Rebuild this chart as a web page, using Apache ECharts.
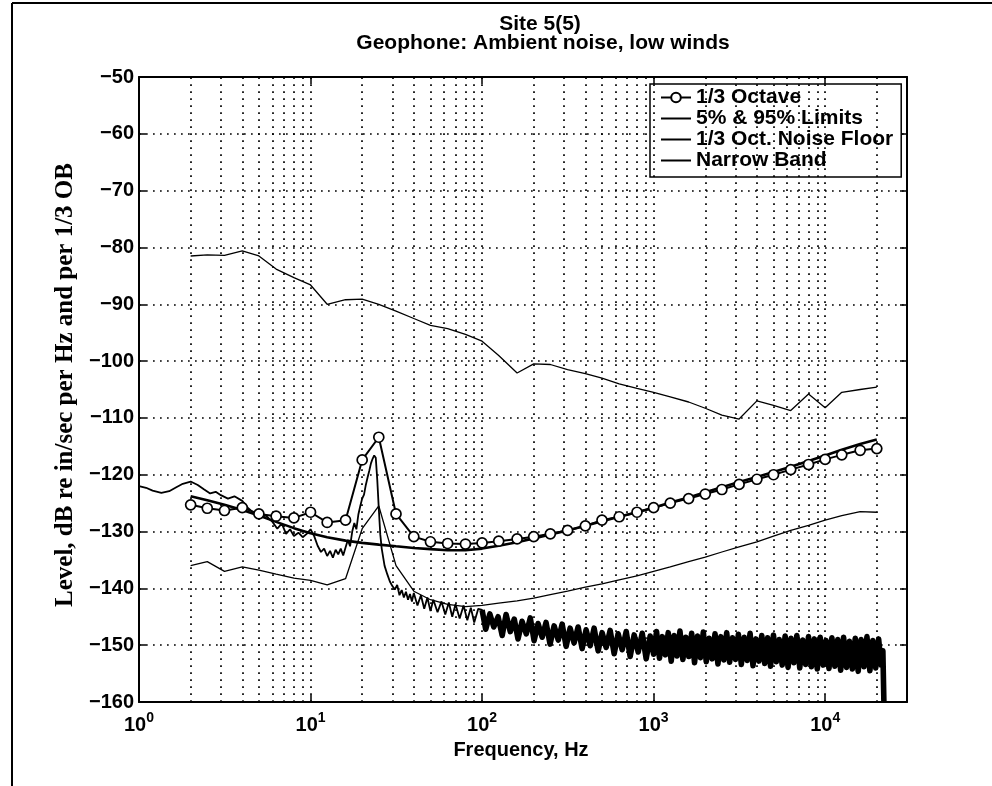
<!DOCTYPE html>
<html>
<head>
<meta charset="utf-8">
<title>Site 5(5)</title>
<script src="https://cdn.jsdelivr.net/npm/echarts@6/dist/echarts.min.js"></script>
<style>
html,body{margin:0;padding:0;background:#fff;}
#chart{width:992px;height:786px;}
</style>
</head>
<body>
<div id="chart"></div>
<script>
/* 1/3 octave band centre frequencies, Hz */
var bandFreq = [2, 2.5, 3.15, 4, 5, 6.3, 8, 10, 12.5, 16, 20, 25, 31.5, 40, 50, 63, 80, 100, 125, 160,
	200, 250, 315, 400, 500, 630, 800, 1000, 1250, 1600, 2000, 2500, 3150, 4000, 5000, 6300, 8000,
	10000, 12500, 16000, 20000];
/* 1/3 octave levels */
var octaveLevel = [-125.3, -125.9, -126.3, -125.8, -126.9, -127.3, -127.6, -126.6, -128.4, -128.0, -117.4,
	-113.4, -126.9, -130.9, -131.8, -132.1, -132.2, -132.0, -131.7, -131.3, -130.9, -130.4, -129.8, -129.0,
	-128.0, -127.4, -126.6, -125.8, -125.0, -124.2, -123.4, -122.6, -121.7, -120.8, -120.0, -119.1, -118.2,
	-117.3, -116.5, -115.7, -115.4];
/* 95% limit */
var limit95 = [-81.5, -81.3, -81.4, -80.6, -81.5, -83.8, -85.3, -86.6, -90.0, -89.2, -89.1, -90.0, -91.2,
	-92.5, -93.7, -94.3, -95.3, -96.5, -99.0, -102.1, -100.5, -100.6, -101.5, -102.2, -103.0, -104.0, -104.8,
	-105.5, -106.3, -107.2, -108.3, -109.5, -110.2, -107.0, -107.8, -108.7, -105.8, -108.2, -105.5, -105.0,
	-104.6];
/* 5% limit */
var limit5 = [-136.0, -135.3, -137.0, -136.2, -136.8, -137.5, -138.2, -138.6, -139.4, -138.3, -129.5, -125.5,
	-136.0, -140.5, -142.0, -142.8, -143.2, -143.0, -142.6, -142.2, -141.7, -141.1, -140.5, -139.8, -139.2,
	-138.5, -137.8, -137.0, -136.2, -135.3, -134.5, -133.6, -132.7, -131.8, -130.8, -129.8, -128.9, -128.0,
	-127.2, -126.5, -126.6];
/* 1/3 oct. noise floor */
var noiseFloor = [-123.8, -124.5, -125.3, -126.2, -127.2, -128.3, -129.4, -130.3, -131.0, -131.6, -132.0,
	-132.3, -132.6, -132.9, -133.1, -133.3, -133.3, -133.0, -132.5, -131.9, -131.2, -130.5, -129.8, -129.0,
	-128.2, -127.4, -126.6, -125.8, -124.9, -124.0, -123.1, -122.2, -121.3, -120.4, -119.5, -118.6, -117.6,
	-116.6, -115.6, -114.6, -113.8];
/* narrow band spectrum [Hz, dB], 1 - 100 Hz */
var narrowBandLow = [
	[1.0,-122.0],[1.1,-122.3],[1.2,-122.8],[1.35,-123.2],[1.5,-122.9],[1.65,-122.2],[1.8,-121.6],[2.0,-121.2],
	[2.2,-121.8],[2.4,-122.6],[2.6,-123.3],[2.8,-123.0],[3.0,-123.6],[3.3,-124.2],[3.6,-123.8],[4.0,-124.6],
	[4.3,-125.8],[4.7,-126.8],[5.1,-127.4],[5.5,-127.2],[6.0,-128.3],[6.4,-129.5],[6.8,-128.6],[7.2,-130.4],
	[7.6,-129.6],[8.0,-130.8],[8.5,-130.2],[9.0,-131.0],[9.5,-130.4],[10.0,-129.6],[10.5,-130.8],[11.0,-132.5],
	[11.5,-133.6],[12.0,-133.0],[12.5,-134.3],[13.0,-133.4],[13.5,-134.6],[14.0,-133.2],[14.5,-134.0],[15.0,-133.0],
	[15.5,-134.2],[16.0,-132.8],[16.5,-131.5],[17.0,-132.6],[17.5,-130.0],[18.0,-128.5],[18.5,-129.6],[19.0,-127.0],
	[19.5,-125.5],[20.0,-124.2],[20.5,-123.5],[21.0,-121.8],[21.5,-120.5],[22.0,-119.3],[22.5,-118.0],[23.0,-117.2],
	[23.5,-116.6],[24.0,-117.0],[24.5,-121.0],[25.0,-126.0],[25.5,-130.5],[26.0,-133.0],[27.0,-136.0],[28.0,-137.5],
	[29.0,-138.8],[30.0,-139.6],[31.0,-140.2],[32.0,-139.4],[33.0,-141.2],[34.0,-140.3],[35.0,-141.6],[36.0,-140.6],
	[37.0,-142.0],[38.0,-141.0],[39.0,-142.3],[40.0,-140.8],[42,-143.0],[44,-141.2],[46,-143.6],[48,-141.6],
	[50,-144.0],[52,-142.0],[55,-144.2],[58,-142.3],[61,-144.6],[64,-142.5],[67,-145.0],[70,-142.8],[74,-145.3],
	[78,-143.0],[82,-145.6],[86,-143.4],[90,-146.0],[95,-143.6],[100,-143.8]
];
/* narrow band spectrum [Hz, dB], 100 Hz - 22 kHz (dense noise band) */
var narrowBandHigh = [
	[100,-143.8],[105,-147.2],[111,-144.5],[117,-146.8],[124,-145.0],[131,-148.3],[138,-144.6],[146,-147.6],
	[154,-145.4],[162,-148.9],[171,-145.8],[181,-148.0],[191,-145.2],[201,-149.2],[212,-146.2],[224,-148.6],
	[236,-146.0],[249,-149.8],[263,-146.6],[278,-149.1],[293,-146.3],[309,-150.2],[326,-147.0],[344,-149.6],
	[363,-146.8],[383,-150.6],[404,-147.3],[427,-150.1],[450,-147.0],[475,-151.0],[501,-147.8],[529,-150.4],
	[558,-147.4],[589,-151.5],[621,-148.0],[656,-150.8],[692,-147.6],[730,-152.0],[770,-148.2],[813,-151.2],
	[858,-147.9],[905,-152.4],[955,-148.4],[1000,-151.6],
	[1040,-147.6],[1082,-152.3],[1125,-148.5],[1170,-151.7],[1217,-147.8],[1266,-152.8],[1316,-148.3],[1369,-151.9],
	[1424,-147.5],[1481,-152.5],[1540,-148.6],[1602,-152.0],[1666,-147.9],[1732,-153.1],[1802,-148.4],[1874,-152.2],
	[1949,-147.7],[2027,-152.9],[2108,-148.8],[2192,-152.4],[2280,-148.0],[2371,-153.3],[2466,-148.5],[2565,-152.6],
	[2667,-147.8],[2774,-153.0],[2885,-148.7],[3000,-152.5],[3120,-148.1],[3245,-153.4],[3375,-148.6],[3510,-152.7],
	[3650,-147.9],[3796,-153.6],[3948,-148.9],[4106,-152.8],[4270,-148.3],[4441,-153.2],[4619,-148.7],[4803,-153.7],
	[4996,-148.2],[5195,-152.9],[5403,-149.0],[5619,-153.5],[5844,-148.4],[6078,-153.9],[6321,-148.8],[6574,-153.1],
	[6837,-148.3],[7110,-154.0],[7395,-149.1],[7690,-153.4],[7998,-148.5],[8318,-153.8],[8651,-148.9],[8997,-154.2],
	[9357,-148.6],[9731,-153.5],[10120,-149.2],[10525,-154.1],[10946,-148.7],[11384,-153.7],[11839,-149.0],[12313,-154.4],
	[12805,-148.6],[13317,-153.9],[13850,-149.3],[14404,-154.2],[14980,-148.8],[15579,-154.6],[16202,-149.0],[16850,-153.8],
	[17524,-148.5],[18225,-154.5],[18954,-149.2],[19713,-154.0],[20500,-148.9],[21200,-153.5],[21700,-151.0],[22000,-160.0]
];
/* axis */
var xMin = 1, xMax = 30000;
var yMin = -160, yMax = -50, yStep = 10;
var gridDecades = [1, 10, 100, 1000, 10000];
var gridSteps = [1, 2, 3, 4, 5, 6, 7, 8, 9];

var fontSans = '"Liberation Sans", Arial, Helvetica, sans-serif';
var fontSerif = '"Liberation Serif", "Times New Roman", serif';
var dotted = {color: '#000', width: 1.7, type: [1.7, 5.3]};
var noSymbol = {color: 'rgba(0,0,0,0)', borderWidth: 0};

function zip(xs, ys){
	var out = [];
	for (var i = 0; i < xs.length; i++) {
		out.push([xs[i], ys[i]]);
	}
	return out;
}

/* vertical dotted grid lines at 2..9 x 10^n */
function gridFreqs(){
	var list = [];
	for (var d = 0; d < gridDecades.length; d++) {
		for (var s = 0; s < gridSteps.length; s++) {
			var f = gridDecades[d] * gridSteps[s];
			if (f > xMin && f < xMax) {
				list.push({xAxis: f});
			}
		}
	}
	return list;
}

var chart = echarts.init(document.getElementById('chart'));
var option = {
	animation: false,
	backgroundColor: '#fff',
	grid: {left: 139, top: 77, width: 768, height: 625},
	legend: {
		data: ['1/3 Octave', '5% & 95% Limits', '1/3 Oct. Noise Floor', 'Narrow Band'],
		orient: 'vertical',
		left: 650,
		top: 84,
		itemWidth: 30,
		itemHeight: 12,
		itemGap: 0,
		padding: [3, 8, 6, 10],
		backgroundColor: '#fff',
		borderColor: '#000',
		borderWidth: 1.5,
		borderRadius: 0,
		selectedMode: false,
		textStyle: {color: '#000', fontSize: 21, fontWeight: 'bold', fontFamily: fontSans, lineHeight: 20}
	},
	xAxis: [{
		type: 'log',
		logBase: 10,
		min: xMin,
		max: xMax,
		position: 'bottom',
		axisLine: {lineStyle: {color: '#000', width: 2}},
		axisTick: {inside: true, length: 7, lineStyle: {color: '#000', width: 1.5}},
		splitLine: {show: false},
		axisLabel: {
			margin: 9,
			color: '#000',
			fontSize: 20,
			fontWeight: 'bold',
			fontFamily: fontSans,
			formatter: function(value){
				var e = Math.log(value) / Math.LN10;
				if (Math.abs(e - Math.round(e)) > 1e-6) {
					return '';
				}
				return '{b|10}{s|' + Math.round(e) + '}';
			},
			rich: {
				b: {fontSize: 20, fontWeight: 'bold', fontFamily: fontSans, color: '#000', lineHeight: 28},
				s: {fontSize: 14, fontWeight: 'bold', fontFamily: fontSans, color: '#000', lineHeight: 10, verticalAlign: 'top'}
			}
		}
	}, {
		type: 'log',
		logBase: 10,
		min: xMin,
		max: xMax,
		position: 'top',
		axisLine: {lineStyle: {color: '#000', width: 2}},
		axisTick: {inside: true, length: 7, lineStyle: {color: '#000', width: 1.5}},
		splitLine: {show: false},
		axisLabel: {show: false}
	}],
	yAxis: [{
		type: 'value',
		min: yMin,
		max: yMax,
		interval: yStep,
		position: 'left',
		axisLine: {show: true, lineStyle: {color: '#000', width: 2}},
		axisTick: {show: true, inside: true, length: 7, lineStyle: {color: '#000', width: 1.5}},
		splitLine: {show: true, lineStyle: dotted},
		axisLabel: {
			margin: 5,
			color: '#000',
			fontSize: 20,
			fontWeight: 'bold',
			fontFamily: fontSans,
			formatter: function(value){
				return String(value).replace('-', '\u2212');
			}
		}
	}, {
		type: 'value',
		min: yMin,
		max: yMax,
		interval: yStep,
		position: 'right',
		axisLine: {show: true, lineStyle: {color: '#000', width: 2}},
		axisTick: {show: true, inside: true, length: 7, lineStyle: {color: '#000', width: 1.5}},
		splitLine: {show: false},
		axisLabel: {show: false}
	}],
	graphic: [
		{type: 'line', shape: {x1: 12, y1: 3, x2: 992, y2: 3}, style: {stroke: '#000', lineWidth: 2}},
		{type: 'line', shape: {x1: 12, y1: 3, x2: 12, y2: 786}, style: {stroke: '#000', lineWidth: 2}},
		{type: 'text', x: 540, y: 24, style: {text: 'Site 5(5)', align: 'center', verticalAlign: 'middle',
			fill: '#000', fontSize: 21, fontWeight: 'bold', fontFamily: fontSans}},
		{type: 'text', x: 543, y: 43, style: {text: 'Geophone: Ambient noise, low winds', align: 'center', verticalAlign: 'middle',
			fill: '#000', fontSize: 21, fontWeight: 'bold', fontFamily: fontSans}},
		{type: 'text', x: 521, y: 750, style: {text: 'Frequency, Hz', align: 'center', verticalAlign: 'middle',
			fill: '#000', fontSize: 20, fontWeight: 'bold', fontFamily: fontSans}},
		{type: 'text', x: 66, y: 385, rotation: Math.PI / 2, style: {text: 'Level, dB re in/sec per Hz and per 1/3 OB',
			align: 'center', verticalAlign: 'middle', fill: '#000', fontSize: 25, fontWeight: 'bold', fontFamily: fontSerif}}
	],
	series: [{
		name: 'gridlines',
		type: 'line',
		data: [],
		silent: true,
		markLine: {
			silent: true,
			symbol: ['none', 'none'],
			label: {show: false},
			lineStyle: dotted,
			emphasis: {disabled: true},
			data: gridFreqs()
		}
	}, {
		name: 'Narrow Band',
		type: 'line',
		data: narrowBandLow,
		symbol: 'none',
		silent: true,
		lineStyle: {color: '#000', width: 1.8},
		itemStyle: noSymbol,
		z: 3
	}, {
		name: 'Narrow Band',
		type: 'line',
		data: narrowBandHigh,
		symbol: 'none',
		silent: true,
		lineStyle: {color: '#000', width: 5.6, join: 'round'},
		itemStyle: noSymbol,
		z: 3
	}, {
		name: '5% & 95% Limits',
		type: 'line',
		data: zip(bandFreq, limit95),
		symbol: 'none',
		silent: true,
		lineStyle: {color: '#000', width: 1.3},
		itemStyle: noSymbol,
		z: 4
	}, {
		name: '5% & 95% Limits',
		type: 'line',
		data: zip(bandFreq, limit5),
		symbol: 'none',
		silent: true,
		lineStyle: {color: '#000', width: 1.3},
		itemStyle: noSymbol,
		z: 4
	}, {
		name: '1/3 Oct. Noise Floor',
		type: 'line',
		data: zip(bandFreq, noiseFloor),
		symbol: 'none',
		silent: true,
		lineStyle: {color: '#000', width: 2.6},
		itemStyle: noSymbol,
		z: 5
	}, {
		name: '1/3 Octave',
		type: 'line',
		data: zip(bandFreq, octaveLevel),
		symbol: 'circle',
		symbolSize: 10,
		silent: true,
		lineStyle: {color: '#000', width: 2},
		itemStyle: {color: '#fff', borderColor: '#000', borderWidth: 1.7},
		z: 6
	}]
};
chart.setOption(option);
</script>
</body>
</html>
